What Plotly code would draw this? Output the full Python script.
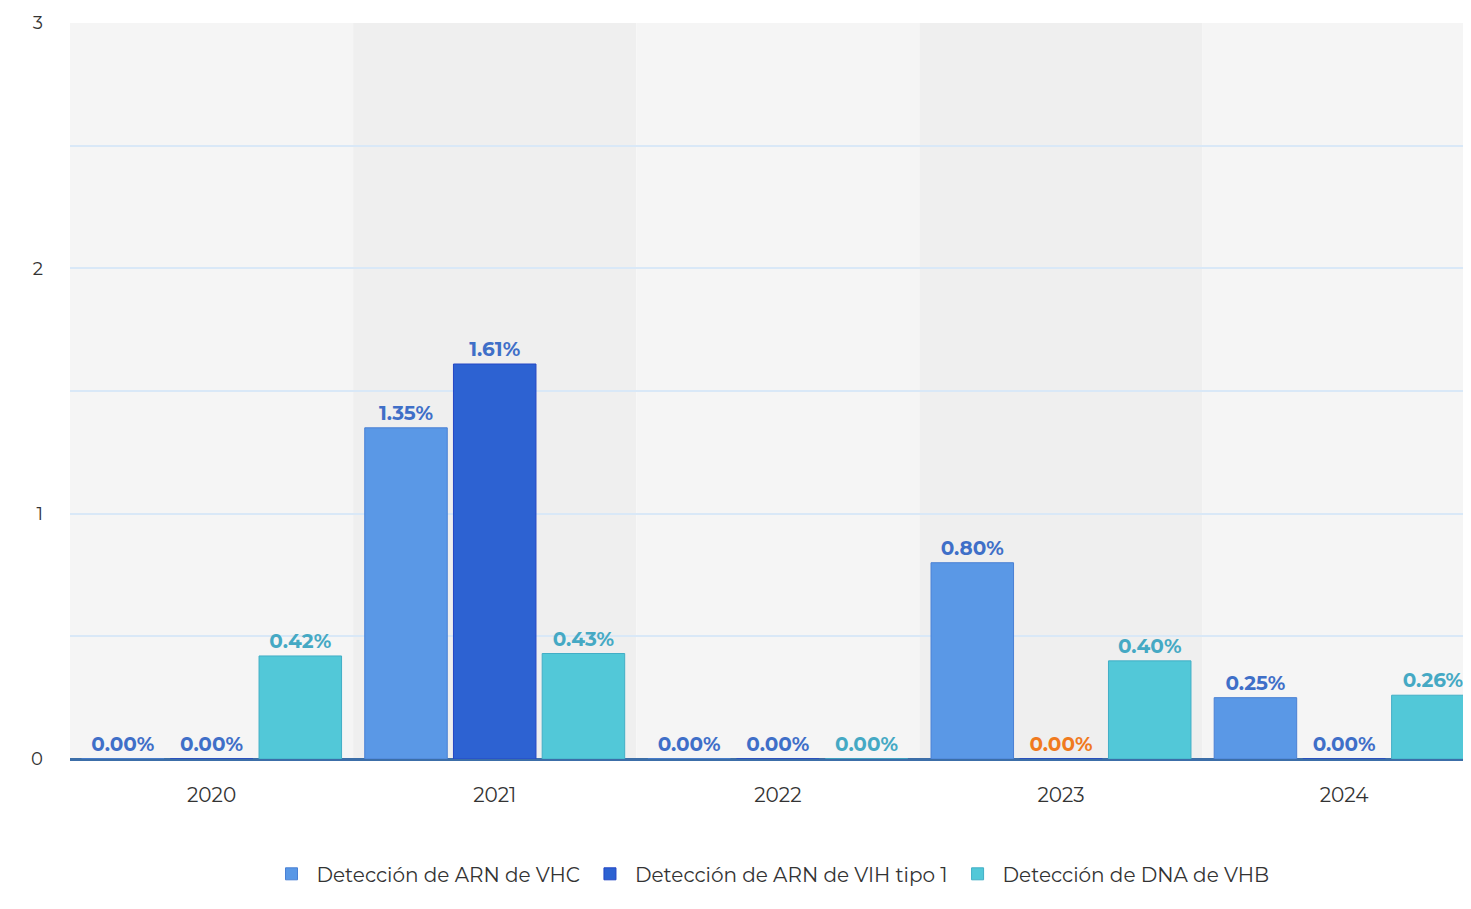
import plotly.graph_objects as go

years = ["2020", "2021", "2022", "2023", "2024"]
vhc = [0.00, 1.35, 0.00, 0.80, 0.25]
vih = [0.00, 1.61, 0.00, 0.00, 0.00]
vhb = [0.42, 0.43, 0.00, 0.40, 0.26]
series_names = ["Detección de ARN de VHC", "Detección de ARN de VIH tipo 1", "Detección de DNA de VHB"]

y_ticks = [0, 0.5, 1, 1.5, 2, 2.5, 3]
y_ticktext = ["0", "", "1", "", "2", "", "3"]

bar_colors = ["#5a98e6", "#2d62d2", "#52c8d8"]
line_colors = ["#4a80d4", "#2446c4", "#42aec6"]
label_colors = [
    ["#3f6fc8"] * 5,
    ["#3f6fc8", "#3f6fc8", "#3f6fc8", "#f07a1e", "#3f6fc8"],
    ["#45a9c4"] * 5,
]

fig = go.Figure()
for name, vals, col, lc, tc in zip(series_names, [vhc, vih, vhb], bar_colors, line_colors, label_colors):
    fig.add_trace(go.Bar(
        name=name, x=years, y=vals,
        marker=dict(color=col, line=dict(color=lc, width=1)),
        text=[f"{v:.2f}%" for v in vals],
        textposition="outside",
        textfont=dict(family="Montserrat, Open Sans, sans-serif", size=20, color=tc, weight="bold"),
        cliponaxis=False,
    ))

band_colors = ["#f5f5f5", "#efefef"]
shapes = []
for i, yr in enumerate(years):
    shapes.append(dict(type="rect", xref="x", yref="paper", x0=i - 0.5, x1=i + 0.5, y0=0, y1=1,
                       fillcolor=band_colors[i % 2], line=dict(width=0), layer="below"))

fig.update_layout(
    width=1463, height=893,
    paper_bgcolor="white", plot_bgcolor="white",
    margin=dict(l=62, r=0, t=15, b=142),
    barmode="group", bargap=0.06, bargroupgap=0.07,
    shapes=shapes,
    font=dict(family="Montserrat, Open Sans, sans-serif", color="#333333", size=18),
    showlegend=True,
    legend=dict(orientation="h", x=0.5, xanchor="center", y=-0.156, yanchor="middle",
                font=dict(size=20, color="#333333"), itemwidth=40, traceorder="normal"),
)
fig.update_xaxes(range=[-0.5, 4.448], showgrid=False, ticks="", showline=False,
                 tickfont=dict(size=20, color="#333333"), ticklabelstandoff=22)
fig.update_yaxes(range=[0, 3], tickvals=y_ticks, ticktext=y_ticktext, showgrid=True,
                 gridcolor="#d9e8f7", gridwidth=1.5, zeroline=True, zerolinecolor="#3c6ea8",
                 zerolinewidth=3, showline=False, tickfont=dict(size=18, color="#333333"),
                 ticklabelstandoff=26)

fig.write_html("out.html")
